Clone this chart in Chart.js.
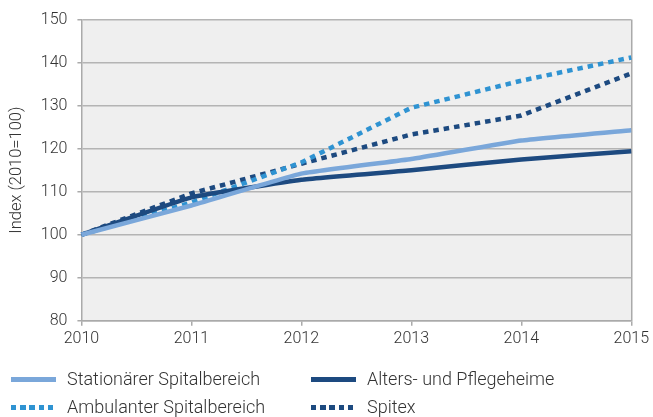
<!DOCTYPE html>
<html>
<head>
<meta charset="utf-8">
<script src="https://cdn.jsdelivr.net/npm/chart.js@4/dist/chart.umd.min.js"></script>
<style>
  html, body { margin: 0; padding: 0; background: #fff; }
  #wrap { position: relative; width: 653px; height: 417px; }
  #legend { position: absolute; left: 0; top: 365px; width: 653px; font-family: Roboto, sans-serif; font-weight: 300; font-size: 18px; color: #333; }
  .item { position: absolute; height: 28px; line-height: 28px; white-space: nowrap; }
  .swatch { position: absolute; top: 12px; left: 0; width: 45px; height: 4.5px; }
  .label { position: absolute; left: 56px; top: 0; }
</style>
</head>
<body>
<div id="wrap">
  <canvas id="lineChart" width="653" height="417"></canvas>
  <div id="legend"></div>
</div>
<script>
var years = ['2010', '2011', '2012', '2013', '2014', '2015']
var stationaer = [100, 106.8, 114.2, 117.6, 121.9, 124.3]
var alters = [100, 108.7, 112.8, 115.0, 117.5, 119.4]
var ambulant = [100, 107.5, 116.8, 129.5, 135.8, 141.2]
var spitex = [100, 109.6, 116.5, 123.3, 127.7, 137.5]
var seriesNames = ['Stationärer Spitalbereich', 'Alters- und Pflegeheime', 'Ambulanter Spitalbereich', 'Spitex']

var lightBlue = '#7aa7da'
var navy = '#1d4a80'
var midBlue = '#2f93d2'

//- plot background -
var plotBg = {
  id: 'plotBg',
  beforeDraw: function (chart) {
    var a = chart.chartArea
    var ctx = chart.ctx
    ctx.save()
    ctx.fillStyle = '#efefef'
    ctx.fillRect(a.left, a.top, a.right - a.left, a.bottom - a.top)
    ctx.restore()
  }
}

var lineData = {
  labels: years,
  datasets: [
    { label: seriesNames[0], data: stationaer, borderColor: lightBlue, backgroundColor: lightBlue, borderWidth: 4.5, pointRadius: 0, fill: false, tension: 0.1 },
    { label: seriesNames[1], data: alters, borderColor: navy, backgroundColor: navy, borderWidth: 4.5, pointRadius: 0, fill: false, tension: 0.1 },
    { label: seriesNames[2], data: ambulant, borderColor: midBlue, backgroundColor: midBlue, borderWidth: 4.5, borderDash: [5.5, 5], pointRadius: 0, fill: false, tension: 0 },
    { label: seriesNames[3], data: spitex, borderColor: navy, backgroundColor: navy, borderWidth: 4.5, borderDash: [5.5, 5], pointRadius: 0, fill: false, tension: 0 }
  ]
}

var tickFont = { family: 'Roboto', size: 16, weight: 300 }

var lineChart = new Chart(document.getElementById('lineChart').getContext('2d'), {
  type: 'line',
  data: lineData,
  plugins: [plotBg],
  options: {
    responsive: false,
    animation: false,
    layout: { padding: { top: 10, right: 19, bottom: 64, left: 7 } },
    plugins: { legend: { display: false }, tooltip: { enabled: false } },
    scales: {
      x: {
        offset: false,
        grid: {
          color: function (c) { return c.index === years.length - 1 ? '#aaaaaa' : 'rgba(0,0,0,0)' },
          tickColor: '#aaaaaa',
          tickLength: 5,
          lineWidth: 1.5
        },
        border: { color: '#aaaaaa', width: 1.5 },
        ticks: { color: '#333', font: tickFont, padding: 4, maxRotation: 0 }
      },
      y: {
        min: 80,
        max: 150,
        grid: { color: '#b4b4b4', tickColor: '#aaaaaa', tickLength: 4, lineWidth: 1.5 },
        border: { color: '#aaaaaa', width: 1.5 },
        ticks: { stepSize: 10, color: '#333', font: tickFont, padding: 10 },
        title: { display: true, text: 'Index (2010=100)', color: '#333', font: { family: 'Roboto', size: 16.5, weight: 300 }, padding: { top: 0, bottom: 4 } }
      }
    }
  }
})

//- legend -
var legendPos = [[11, 0], [311, 0], [11, 28], [311, 28]]
var legendEl = document.getElementById('legend')
lineChart.data.datasets.forEach(function (ds, i) {
  var item = document.createElement('div')
  item.className = 'item'
  item.style.left = legendPos[i][0] + 'px'
  item.style.top = legendPos[i][1] + 'px'
  var sw = document.createElement('div')
  sw.className = 'swatch'
  if (ds.borderDash) {
    sw.style.background = 'repeating-linear-gradient(to right, ' + ds.borderColor + ' 0 5.5px, transparent 5.5px 9.2px)'
  } else {
    sw.style.background = ds.borderColor
  }
  var lb = document.createElement('div')
  lb.className = 'label'
  lb.textContent = ds.label
  item.appendChild(sw)
  item.appendChild(lb)
  legendEl.appendChild(item)
})
</script>
</body>
</html>
